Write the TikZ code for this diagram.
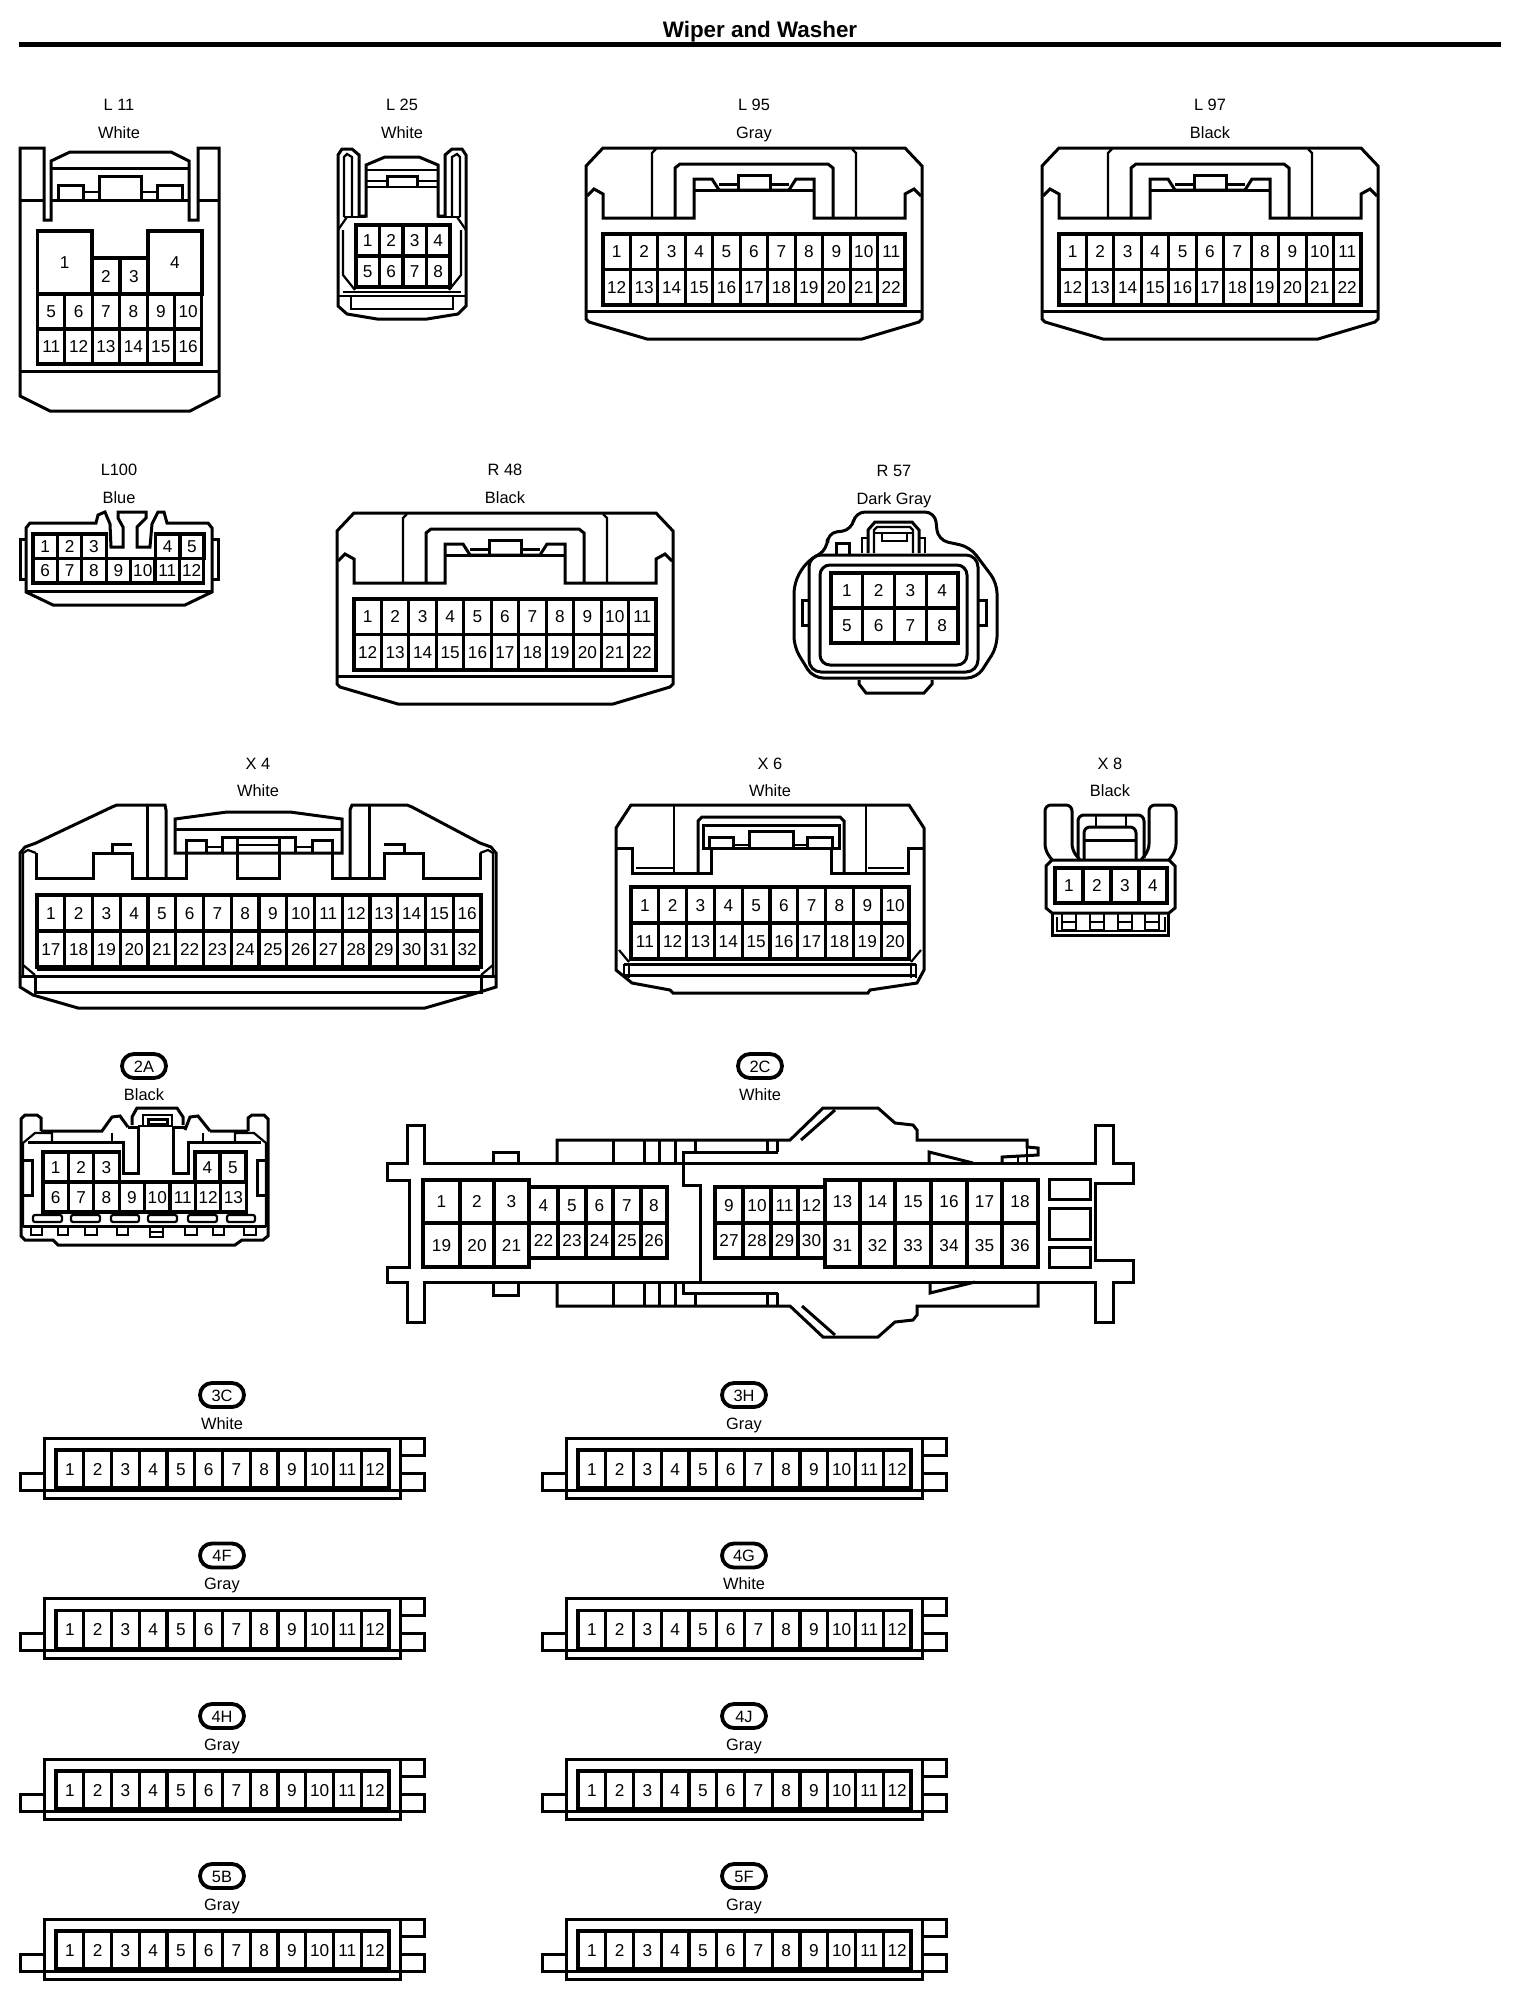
\documentclass[tikz,border=0pt]{standalone}
\usepackage{fontspec}
\setmainfont{Liberation Sans}
\usetikzlibrary{
	positioning
	, shapes.misc			% rounded rectangle for the round tags
}

% one pin cell, by its corners
\newcommand{\pinbox}[6]{
	\node [pincell, minimum width={(#4-#2)*0.5pt}, minimum height={(#5-#3)*0.5pt}]
		(#1) at ({(#2+#4)/2},{(#3+#5)/2}) {#6};
}
% a row of equal pin cells
\newcommand{\pinrow}[7]{
	\foreach \n [count=\i from 0] in {#6,...,#7} {
		\node [pincell, minimum width={#4*0.5pt}, minimum height={#5*0.5pt}]
			(#1-\n) at ({#2+(\i+.5)*#4},{#3+#5/2}) {\n};
	}
}

\begin{document}
\begin{tikzpicture}[
			x=0.5pt, y=-0.5pt,
			shell/.style={
				draw=black,
				line width=1.5pt
			},
			fine/.style={
				draw=black,
				line width=1.1pt
			},
			pincell/.style={
				rectangle,
				draw=black,
				line width=1.55pt,
				outer sep=0pt,
				inner sep=0pt,
				text height=6pt,
				text depth=0pt,
				font=\fontsize{8.6}{10}\selectfont
			},
			tagline/.style={
				inner sep=0pt,
				text height=6pt,
				text depth=0pt,
				font=\fontsize{8.2}{10}\selectfont
			},
			roundtag/.style={
				rounded rectangle,
				draw=black,
				line width=1.9pt,
				outer sep=0pt,
				inner sep=0pt,
				minimum width=22pt,
				minimum height=12pt,
				text height=6pt,
				text depth=0pt,
				font=\fontsize{8.2}{10}\selectfont
			}]

	\useasboundingbox [fill=white] (0,0) rectangle (1536,1998);

	\node [inner sep=0pt, font=\bfseries\fontsize{11.2}{12}\selectfont] (title) at (760,32) {Wiper and Washer};
	\draw [line width=2.3pt] (19,44.5) -- (1501,44.5);

	%%% L 11
	\node [tagline] (L11-id) at (119,104) {L 11};
	\node [tagline] (L11-col) at (119,132) {White};
	\begin{scope}[shift={(0,3)}]
		\draw [shell] (20,145) -- (44,145) -- (44,217) -- (51,217) -- (51,158) -- (70,149) -- (171,149) -- (189,158) -- (189,217) -- (198,217) -- (198,145) -- (219,145) -- (219,393) -- (190,408) -- (50,408) -- (20,393) -- cycle;
		\draw [shell] (51,165) -- (189,165);
		\draw [shell] (20,197) -- (44,197) (51,197) -- (189,197) (198,197) -- (219,197);
		\draw [shell] (20,368) -- (219,368);
		\draw [shell] (58,197) -- (58,182) -- (83,182) -- (83,197);
		\draw [shell] (99,197) -- (99,173) -- (141,173) -- (141,197);
		\draw [shell] (157,197) -- (157,182) -- (182,182) -- (182,197);
		\draw [fine] (83,189) -- (99,189) (141,189) -- (157,189);
		\pinbox{L11-1}{37.5}{228}{92}{291}{1}
		\pinbox{L11-2}{92}{255}{120}{291}{2}
		\pinbox{L11-3}{120}{255}{148}{291}{3}
		\pinbox{L11-4}{148}{228}{202}{291}{4}
		\pinrow{L11}{37.5}{291}{27.4}{35}{5}{10}
		\pinrow{L11}{37.5}{326}{27.4}{35}{11}{16}
	\end{scope}

	%%% L 25
	\node [tagline] (L25-id) at (402,104) {L 25};
	\node [tagline] (L25-col) at (402,132) {White};
	\begin{scope}[shift={(0,3)}]
		\draw [shell] (338,152) -- (342,146) -- (352,146) -- (359,152) -- (359,213) -- (366,213) -- (366,162) -- (385,154) -- (419,154) -- (438,162) -- (438,213) -- (445,213) -- (445,152) -- (452,146) -- (462,146) -- (466,152) -- (466,303) -- (458,311) -- (427,316) -- (377,316) -- (347,311) -- (338,303) -- cycle;
		\draw [fine] (344,214) -- (344,154) -- (347,151) -- (352,154) -- (352,214);
		\draw [fine] (460,214) -- (460,154) -- (457,151) -- (452,154) -- (452,214);
		\draw [fine] (344,214) -- (366,214) (438,214) -- (460,214);
		\draw [fine] (366,167) -- (438,167) (366,178) -- (387,178) (417,178) -- (438,178) (366,184) -- (438,184);
		\draw [shell] (387,184) -- (387,173) -- (417,173) -- (417,184);
		\draw [fine] (338,227) -- (347,214) (466,227) -- (457,214);
		\draw [fine] (343,227) -- (343,272) -- (355,287) (461,227) -- (461,272) -- (449,287);
		\pinrow{L25}{356}{222}{23.5}{31}{1}{4}
		\pinrow{L25}{356}{253}{23.5}{31}{5}{8}
		\draw [fine] (343,289) -- (461,289);
		\draw [fine] (338,293) -- (466,293);
		\draw [fine] (351,293) -- (351,306) -- (453,306) -- (453,293);
	\end{scope}

	%%% the three large shells with 22 pins
	\foreach \name/\colour/\cx/\cy in {L95/Gray/754/148, L97/Black/1210/148, R48/Black/505/513} {
		\begin{scope}[shift={(\cx,\cy)}]
			\node [tagline] (\name-id) at (0,-44) {\ifnum\cx=505 R 48\else\ifnum\cx=754 L 95\else L 97\fi\fi};
			\node [tagline] (\name-col) at (0,-16) {\colour};
			\draw [shell] (-168,18) -- (-151,0) -- (151,0) -- (168,18) -- (168,171) -- (165,174) -- (108,191) -- (-107,191) -- (-165,174) -- (-168,171) -- cycle;
			\draw [shell] (-167,48) -- (-160,41) -- (-151,46) -- (-151,70) -- (-60,70) -- (-60,31) -- (-42,31) -- (-35,42) -- (35,42) -- (42,31) -- (60,31) -- (60,70) -- (151,70) -- (151,46) -- (160,41) -- (167,48);
			\draw [shell] (-60,42) -- (60,42);
			\draw [shell] (-16,42) -- (-16,27) -- (16,27) -- (16,42);
			\draw [fine] (-35,36.5) -- (-16,36.5) (16,36.5) -- (35,36.5);
			\draw [fine] (-102,70) -- (-102,5) -- (-98,1) (102,70) -- (102,5) -- (98,1);
			\draw [shell] (-79,70) -- (-79,20) -- (-74,16) -- (74,16) -- (79,20) -- (79,70);
			\pinrow{\name}{-151}{86}{27.45}{35.5}{1}{11}
			\pinrow{\name}{-151}{121.5}{27.45}{35.5}{12}{22}
			\draw [shell] (-168,163) -- (168,163);
		\end{scope}
	}

	%%% L100
	\node [tagline] (L100-id) at (119,469.5) {L100};
	\node [tagline] (L100-col) at (119,497) {Blue};
	\begin{scope}[shift={(0,2)}]
		\draw [shell] (26,526) -- (30,521) -- (96,521) -- (98,513) -- (105,510) -- (110,522) -- (111,545) -- (123,545) -- (123,525) -- (118,516) -- (118,510) -- (146,510) -- (146,516) -- (137,525) -- (137,545) -- (150,545) -- (152,522) -- (158,510) -- (164,510) -- (167,521) -- (208,521) -- (212,526) -- (212,590) -- (185,603) -- (53,603) -- (26,590) -- cycle;
		\draw [shell] (26,589) -- (212,589);
		\draw [shell] (26,537) -- (20,537) -- (20,577) -- (26,577) (212,537) -- (218,537) -- (218,577) -- (212,577);
		\pinrow{L100}{33}{532}{24.4}{24.5}{1}{3}
		\pinbox{L100-4}{155.5}{532}{180}{556.5}{4}
		\pinbox{L100-5}{180}{532}{204}{556.5}{5}
		\pinrow{L100}{33}{556.5}{24.4}{24.5}{6}{12}
	\end{scope}

	%%% R 57
	\node [tagline] (R57-id) at (894,470) {R 57};
	\node [tagline] (R57-col) at (894,498) {Dark Gray};
	\draw [shell, rounded corners=5pt] (794,600) -- (794,583) -- (806,562) -- (828,549) -- (827,533) -- (852,530) -- (855,512) -- (935,512) -- (938,540) -- (970,547) -- (997,583) -- (997,647) -- (977,678) -- (813,678) -- (794,647) -- cycle;
	\draw [shell] (859,680) -- (859,684) -- (866,693) -- (924,693) -- (932,684) -- (932,680);
	\draw [shell, rounded corners=6pt] (809,555) rectangle (978,672);
	\draw [shell, rounded corners=5pt] (820,565) rectangle (967,665);
	\pinrow{R57}{831}{573}{31.75}{35}{1}{4}
	\pinrow{R57}{831}{608}{31.75}{35}{5}{8}
	\draw [shell] (809,600) -- (802,600) -- (802,625) -- (809,625) (978,600) -- (986,600) -- (986,625) -- (978,625);
	\draw [shell] (836,554) -- (836,543) -- (849,543) -- (849,554);
	\draw [shell] (868,553) -- (868,530) -- (875,522) -- (912,522) -- (919,530) -- (919,553);
	\draw [fine] (874,553) -- (874,530) -- (877,527) -- (910,527) -- (913,530) -- (913,553);
	\draw [fine] (882,533) rectangle (907,541);
	\draw [fine] (874,533) -- (882,533) (907,533) -- (913,533);
	\draw [fine] (862,553) -- (862,538) -- (868,538) (925,553) -- (925,538) -- (919,538);

	%%% X 4
	\node [tagline] (X4-id) at (258,763) {X 4};
	\node [tagline] (X4-col) at (258,790) {White};
	\draw [shell] (20,977) -- (20,853) -- (25,847) -- (36,843) -- (112,807) -- (117,805) -- (165,805) -- (166,810) -- (166,878) (350,878) -- (350,810) -- (352,805) -- (407,805) -- (412,807) -- (480,843) -- (491,847) -- (496,853) -- (496,977) -- (496,987) -- (470,995) -- (425,1008) -- (78,1008) -- (33,995) -- (20,987) -- (20,977);
	\draw [fine] (23,977) -- (23,853) -- (28,850) -- (36,853) (493,977) -- (493,853) -- (488,850) -- (480,853);
	\draw [shell] (36,853) -- (36,878) -- (93,878) -- (93,853) -- (132,853) -- (132,878) -- (186,878) -- (186,853);
	\draw [shell] (480,853) -- (480,878) -- (423,878) -- (423,853) -- (384,853) -- (384,878) -- (332,878) -- (332,853);
	\draw [shell] (112,853) -- (112,844) -- (132,844) (404,853) -- (404,844) -- (384,844);
	\draw [shell] (147,805) -- (147,878) (369,805) -- (369,878);
	\draw [shell] (175,853) -- (175,819) -- (227,812) -- (290,812) -- (342,819) -- (342,853) -- cycle;
	\draw [shell] (175,829) -- (342,829);
	\draw [shell] (186,853) -- (186,840) -- (206,840) -- (206,853) (312,853) -- (312,840) -- (332,840) -- (332,853);
	\draw [shell] (222,853) -- (222,837) -- (295,837) -- (295,853);
	\draw [shell] (237,837) -- (237,878) -- (279,878) -- (279,837);
	\draw [fine] (237,845) -- (279,845) (206,847) -- (222,847) (295,847) -- (312,847);
	\pinrow{X4}{37}{895}{27.75}{36}{1}{16}
	\pinrow{X4}{37}{931}{27.75}{36}{17}{32}
	\draw [fine] (37,970) -- (480,970);
	\draw [fine] (23,965) -- (35,975) (493,965) -- (481,975);
	\draw [shell] (20,976) -- (496,976);
	\draw [shell] (35,976) -- (35,992) -- (481,992) -- (481,976);

	%%% X 6
	\node [tagline] (X6-id) at (770,763) {X 6};
	\node [tagline] (X6-col) at (770,790) {White};
	\draw [shell] (616,828) -- (631,805) -- (909,805) -- (924,828) -- (924,970) -- (917,983) -- (870,990) -- (868,993) -- (673,993) -- (670,990) -- (632,983) -- (616,970) -- cycle;
	\draw [shell] (616,848) -- (632,848) -- (632,873) -- (711,873) -- (711,848);
	\draw [shell] (924,848) -- (908,848) -- (908,873) -- (831,873) -- (831,848);
	\draw [fine] (636,868) -- (674,868) (868,868) -- (904,868);
	\draw [fine] (674,806) -- (674,873) (866,806) -- (866,873);
	\draw [shell] (698,873) -- (698,821) -- (702,817) -- (840,817) -- (844,821) -- (844,873);
	\draw [shell] (703,825) rectangle (839,848);
	\draw [shell] (709,848) -- (709,837) -- (733,837) -- (733,848);
	\draw [shell] (749,848) -- (749,831) -- (793,831) -- (793,848);
	\draw [shell] (807,848) -- (807,837) -- (832,837) -- (832,848);
	\draw [fine] (733,845) -- (749,845) (793,845) -- (807,845);
	\pinrow{X6}{631}{887}{27.8}{36}{1}{10}
	\pinrow{X6}{631}{923}{27.8}{36}{11}{20}
	\draw [fine] (619,950) -- (629,962) (921,950) -- (911,962);
	\draw [shell] (624,964) -- (916,964);
	\draw [shell] (624,975) -- (916,975);
	\draw [fine] (624,964) -- (624,978) (629,964) -- (629,978) (911,964) -- (911,978) (916,964) -- (916,978);

	%%% X 8
	\node [tagline] (X8-id) at (1110,763) {X 8};
	\node [tagline] (X8-col) at (1110,790) {Black};
	\draw [shell, rounded corners=3pt] (1052,860) -- (1045,850) -- (1045,805) -- (1072,805) -- (1072,850) -- (1080,860);
	\draw [shell, rounded corners=3pt] (1169,860) -- (1176,850) -- (1176,805) -- (1149,805) -- (1149,850) -- (1141,860);
	\draw [shell] (1046,866) -- (1052,860) -- (1169,860) -- (1175,866) -- (1175,908) -- (1169,913) -- (1052,913) -- (1046,908) -- cycle;
	\pinrow{X8}{1055}{868}{28}{35}{1}{4}
	\draw [shell, rounded corners=3pt] (1078,858) -- (1078,815) -- (1144,815) -- (1144,858);
	\draw [shell, rounded corners=3pt] (1084,860) -- (1084,827) -- (1136,827) -- (1136,860);
	\draw [fine] (1096,815) -- (1096,827) (1126,815) -- (1126,827);
	\draw [shell] (1084,840) -- (1136,840);
	\draw [shell] (1052,913) -- (1052,935) -- (1168,935) -- (1168,913);
	\draw [fine] (1057,917) -- (1057,931) -- (1165,931) -- (1165,917);
	\foreach \sx in {1062,1090,1118,1145} {
		\draw [fine] (\sx,913) rectangle ++(14,17);
		\draw [fine] (\sx,922) -- ++(14,0);
	}

	%%% 2A
	\node [roundtag] (2A-tag) at (144,1066) {2A};
	\node [tagline] (2A-col) at (144,1094) {Black};
	\draw [shell] (41,1131) -- (41,1118) -- (37,1115) -- (25,1115) -- (21,1119) -- (21,1236) -- (25,1240) -- (53,1240) -- (58,1245) -- (235,1245) -- (242,1240) -- (263,1240) -- (268,1236) -- (268,1119) -- (264,1115) -- (252,1115) -- (248,1118) -- (248,1131);
	\draw [shell] (41,1131) -- (102,1131) -- (112,1117) -- (120,1116) -- (128,1127) (210,1131) -- (198,1116) -- (190,1117) -- (185,1130) (210,1131) -- (248,1131);
	\draw [shell] (132,1125) -- (132,1117) -- (137,1108) -- (177,1108) -- (183,1117) -- (183,1125);
	\draw [fine] (143,1125) -- (143,1115) -- (172,1115) -- (172,1125);
	\draw [shell] (148,1119) rectangle (167,1124);
	\draw [shell] (128,1127) -- (138,1127) -- (138,1173) -- (123,1173) -- (123,1142) -- (28,1142) (185,1127) -- (173,1127) -- (173,1173) -- (188,1173) -- (188,1142) -- (261,1142);
	\draw [fine] (138,1126) -- (173,1126);
	\draw [fine] (23,1227) -- (23,1143) -- (35,1133) -- (52,1133) -- (52,1142) (266,1227) -- (266,1143) -- (254,1133) -- (235,1133) -- (235,1142);
	\draw [fine] (112,1133) -- (112,1142) (203,1133) -- (203,1142);
	\draw [shell] (23,1160) -- (32,1160) -- (32,1195) -- (23,1195) (266,1160) -- (257,1160) -- (257,1195) -- (266,1195);
	\pinrow{2A}{43}{1152}{25.4}{30}{1}{3}
	\pinbox{2A-4}{195}{1152}{220}{1182}{4}
	\pinbox{2A-5}{220}{1152}{246}{1182}{5}
	\pinrow{2A}{43}{1182}{25.4}{30}{6}{13}
	\foreach \sa/\sb in {33/62, 71/100, 111/139, 148/177, 188/217, 227/255} {
		\draw [fine, rounded corners=1pt] (\sa,1215) rectangle (\sb,1222);
	}
	\draw [shell] (23,1226) -- (266,1226);
	\foreach \sa/\sb in {31/42, 58/68, 85/97, 117/128, 185/197, 213/224, 244/256} {
		\draw [fine] (\sa,1226) -- (\sa,1235) -- (\sb,1235) -- (\sb,1226);
	}
	\draw [fine] (150,1226) rectangle (163,1237);
	\draw [fine] (150,1232) -- (163,1232);

	%%% 2C
	\node [roundtag] (2C-tag) at (760,1066) {2C};
	\node [tagline] (2C-col) at (760,1094) {White};
	\draw [shell] (424,1163) -- (424,1125) -- (407,1125) -- (407,1163) -- (387,1163) -- (387,1180) -- (409,1180) -- (409,1267) -- (387,1267) -- (387,1282) -- (407,1282) -- (407,1322) -- (424,1322) -- (424,1282) -- (1095,1282) -- (1095,1322) -- (1113,1322) -- (1113,1282) -- (1133,1282) -- (1133,1260) -- (1095,1260) -- (1095,1183) -- (1133,1183) -- (1133,1163) -- (1113,1163) -- (1113,1125) -- (1095,1125) -- (1095,1163) -- cycle;
	\draw [shell] (493,1163) -- (493,1152) -- (518,1152) -- (518,1163);
	\draw [shell] (493,1282) -- (493,1295) -- (518,1295) -- (518,1282);
	%% upper shroud
	\draw [shell] (557,1163) -- (557,1140) -- (790,1140) -- (823,1108) -- (878,1108) -- (895,1123) -- (913,1125) -- (917,1130) -- (917,1140) -- (1027,1140) -- (1027,1147) -- (1038,1148) -- (1038,1155) -- (1002,1157) -- (1002,1163);
	\draw [shell] (801,1140) -- (835,1110);
	\foreach \vx in {613,644,659,675} {
		\draw [shell] (\vx,1140) -- (\vx,1163);
	}
	\draw [shell] (695,1140) -- (695,1152) (767,1140) -- (767,1152) (777,1140) -- (777,1152);
	\draw [shell] (778,1152) -- (683,1152) -- (683,1185) -- (700,1185) -- (700,1282);
	\draw [fine] (1018,1157) -- (1018,1163) (1027,1147) -- (1027,1163);
	\draw [shell] (929,1163) -- (929,1152) -- (973,1163);
	%% lower shroud
	\draw [shell] (557,1282) -- (557,1306) -- (790,1306) -- (823,1337) -- (878,1337) -- (895,1322) -- (913,1320) -- (917,1315) -- (917,1306) -- (1038,1306) -- (1038,1282);
	\draw [shell] (802,1306) -- (835,1335);
	\foreach \vx in {613,644,659,675} {
		\draw [shell] (\vx,1282) -- (\vx,1306);
	}
	\draw [shell] (695,1293) -- (695,1306) (767,1293) -- (767,1306) (777,1293) -- (777,1306);
	\draw [shell] (683,1282) -- (683,1293) -- (778,1293);
	\draw [shell] (930,1282) -- (930,1293) -- (975,1282);
	%% cells
	\foreach \a/\b/\t/\u in {423/460/1/19, 460/494/2/20, 494/529/3/21, 825/860/13/31, 860/895/14/32, 895/931/15/33, 931/967/16/34, 967/1002/17/35, 1002/1038/18/36} {
		\pinbox{2C-\t}{\a}{1180}{\b}{1223}{\t}
		\pinbox{2C-\u}{\a}{1223}{\b}{1267}{\u}
	}
	\foreach \a/\b/\t/\u in {529/558/4/22, 558/586/5/23, 586/613/6/24, 613/641/7/25, 641/667/8/26, 715/743/9/27, 743/771/10/28, 771/798/11/29, 798/825/12/30} {
		\pinbox{2C-\t}{\a}{1187}{\b}{1223}{\t}
		\pinbox{2C-\u}{\a}{1223}{\b}{1258}{\u}
	}
	\draw [shell] (1049,1179) rectangle (1090,1199);
	\draw [shell] (1049,1208) rectangle (1090,1239);
	\draw [shell] (1049,1247) rectangle (1090,1267);

	%%% the eight flat connectors with 12 pins
	\foreach \name/\colour/\dx/\dy in {3C/White/0/0, 3H/Gray/522/0, 4F/Gray/0/160.5, 4G/White/522/160.5, 4H/Gray/0/321, 4J/Gray/522/321, 5B/Gray/0/481, 5F/Gray/522/481} {
		\begin{scope}[shift={(\dx,\dy)}]
			\node [roundtag] (\name-tag) at (222,1395) {\name};
			\node [tagline] (\name-col) at (222,1423) {\colour};
			\draw [shell] (44,1438) rectangle (400,1498);
			\draw [shell] (400,1438) -- (424,1438) -- (424,1455) -- (400,1455);
			\draw [shell] (400,1473) -- (424,1473) -- (424,1490) -- (20,1490) -- (20,1473) -- (44,1473);
			\pinrow{\name}{56}{1450}{27.75}{38}{1}{12}
		\end{scope}
	}

\end{tikzpicture}
\end{document}
